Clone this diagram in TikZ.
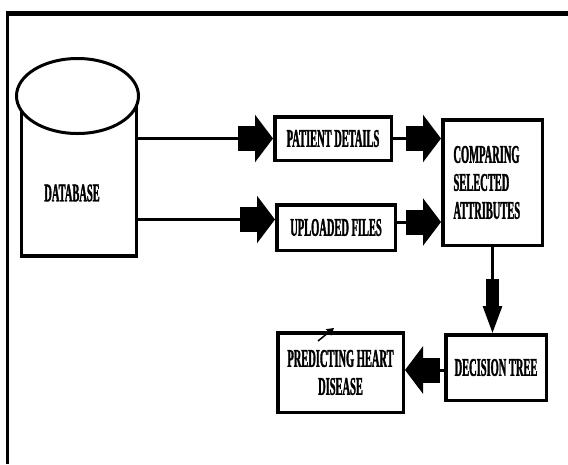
\documentclass[tikz,border=0pt]{standalone}
\usepackage{fontspec}
\newfontfamily\labfont{Liberation Serif}[FakeStretch=0.41, FakeBold=1.2]
\usetikzlibrary{arrows.meta,shapes.geometric}
\tikzset{
 lab/.style={font=\labfont\bfseries\fontsize{25.5}{28}\selectfont},
 box/.style={draw, line width=3.5pt, inner sep=0pt, lab, align=center},
 conn/.style={line width=3pt},
 harrow/.style={conn, -{Rectangle[length=17pt,width=25pt,sep=0pt]Triangle[length=18pt,width=47pt]}},
 varrow/.style={conn, -{Rectangle[length=27pt,width=13pt,sep=0pt]Triangle[length=27pt,width=19pt]}},
}
\begin{document}
\begin{tikzpicture}[x=1pt,y=-1pt]
\useasboundingbox (0,0) rectangle (568,464);
% frame
\draw[line width=3pt] (7.5,464) -- (7.5,11);
\draw[line width=4.5pt] (6,13.3) -- (568,13.3);

% database cylinder
\node[minimum width=115, minimum height=159, inner sep=0pt] (db) at (79,176.5) {};
\draw[line width=3.5pt] (db.north west) -- (db.south west) -- (db.south east) -- (db.north east);
\node[draw, fill=white, ellipse, line width=3pt, minimum width=122, minimum height=75, inner sep=0pt] (dbtop) at (77.5,96) {};
\node[lab] (dbl) at (72,193) {DATABASE};

% boxes
\node[box, minimum width=116.5, minimum height=43.5] (pd) at (333,138.5) {PATIENT DETAILS};
\node[box, minimum width=118.5, minimum height=45.5] (uf) at (336,227.5) {UPLOADED FILES};
\node[box, minimum width=99.5, minimum height=125.5, text width=78, align=left] (cmp) at (492.5,182.5) {COMPARING\\SELECTED\\ATTRIBUTES};
\node[box, minimum width=100.5, minimum height=65.5] (dt) at (496,367.5) {DECISION TREE};
\node[box, minimum width=125.5, minimum height=79.5] (pr) at (340.5,372.5) {PREDICTING HEART\\DISEASE};

% connectors
\coordinate (y2) at (0,219.5);
\coordinate (y4) at (0,222);
\coordinate (y6) at (0,370);
\draw[harrow] (pd.west -| db.east) -- (pd.west);
\draw[harrow] (db.east |- y2) -- (uf.west |- y2);
\draw[harrow] (pd.east) -- (pd.east -| cmp.west);
\draw[harrow] (uf.east |- y4) -- (cmp.west |- y4);
\draw[varrow] (cmp.south) -- (cmp.south |- dt.north);
\draw[harrow] (dt.west |- y6) -- (pr.east |- y6);

% small stray arrow
\coordinate (sa) at (318,341);
\coordinate (sb) at (334,328);
\draw[line width=1.5pt, -{Triangle[length=7pt,width=8pt]}] (sa) -- (sb);
\end{tikzpicture}
\end{document}
